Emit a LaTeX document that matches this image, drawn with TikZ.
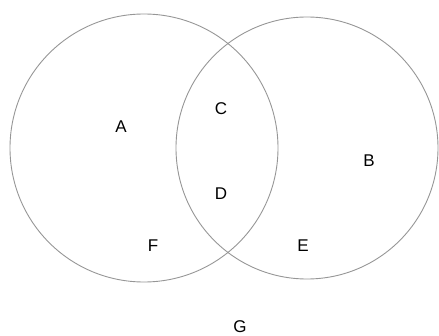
\documentclass[tikz,border=0pt]{standalone}
\usepackage{fontspec}
\setmainfont{Liberation Sans}
\definecolor{ringgray}{RGB}{150,150,150}

\begin{document}
\begin{tikzpicture}[x=1pt,y=-1pt,line width=.9pt,every node/.style={font=\fontsize{17}{20}\selectfont}]
\useasboundingbox (0,0) rectangle (439,336);
\coordinate (L) at (144,148); \coordinate (R) at (307,148);
\draw[ringgray] (L) circle (134pt); \draw[ringgray] (R) circle (131pt);
\node (A) at (121,127) {A}; \node (B) at (369,161) {B};
\node (C) at (221,109) {C}; \node (D) at (221,194) {D};
\node (E) at (303,246) {E}; \node (F) at (153,246) {F};
\node (G) at (240,327) {G};
\end{tikzpicture}
\end{document}
